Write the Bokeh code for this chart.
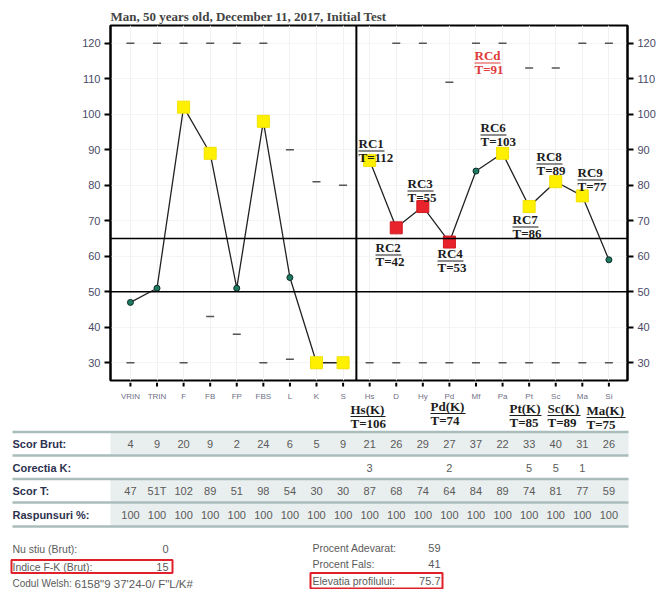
from bokeh.plotting import figure
from bokeh.models import Range1d, LinearAxis, FixedTicker, Span
from bokeh.layouts import column
from bokeh.core.properties import value
from bokeh.embed import file_html
from bokeh.resources import INLINE

# ---------------- data ----------------
scales = ["VRIN", "TRIN", "F", "FB", "FP", "FBS", "L", "K", "S",
          "Hs", "D", "Hy", "Pd", "Mf", "Pa", "Pt", "Sc", "Ma", "Si"]
t_scores = [47, 51, 102, 89, 51, 98, 54, 30, 30,
            87, 68, 74, 64, 84, 89, 74, 81, 77, 59]
t_labels = ["47", "51T", "102", "89", "51", "98", "54", "30", "30",
            "87", "68", "74", "64", "84", "89", "74", "81", "77", "59"]
raw_scores = ["4", "9", "20", "9", "2", "24", "6", "5", "9",
              "21", "26", "29", "27", "37", "22", "33", "40", "31", "26"]
k_correction = ["", "", "", "", "", "", "", "", "",
                "3", "", "", "2", "", "", "5", "5", "1", ""]
responses = ["100", "100", "100", "100", "100", "100", "100", "100", "100",
             "100", "100", "100", "100", "100", "100", "100", "100", "100", "100"]
marker_kind = ["c", "c", "y", "y", "c", "y", "c", "y", "y",
               "y", "r", "r", "r", "c", "y", "y", "y", "y", "c"]

# cutoff dashes (scale, T value)
dash_scale = ["VRIN", "TRIN", "F", "FB", "FP", "FBS", "VRIN", "F", "FBS",
              "FB", "FP", "L", "L", "K", "S",
              "D", "Hy", "Mf", "Pa", "Ma", "Si", "Pd", "Pt", "Sc",
              "Hs", "D", "Hy", "Pd", "Mf", "Pa", "Pt", "Sc", "Ma", "Si"]
dash_value = [120, 120, 120, 120, 120, 120, 30, 30, 30,
              43, 38, 90, 31, 81, 80,
              120, 120, 120, 120, 120, 120, 109, 113, 113,
              30, 30, 30, 30, 30, 30, 30, 30, 30, 30]

# RC scale annotations
rc_names = ["RC1", "RC2", "RC3", "RC4", "RC6", "RC7", "RC8", "RC9", "RCd"]
rc_T = [112, 42, 55, 53, 103, 86, 89, 77, 91]
# K-corrected scale annotations
k_names = ["Hs(K)", "Pd(K)", "Pt(K)", "Sc(K)", "Ma(K)"]
k_T = [106, 74, 85, 89, 75]

row_names = ["Scor Brut:", "Corectia K:", "Scor T:", "Raspunsuri %:"]

info_left_labels = ["Nu stiu (Brut):", "Indice F-K (Brut):", "Codul Welsh:"]
info_left_values = ["0", "15", ""]
welsh_code = "6158\"9 37'24-0/ F\"L/K#"
info_right_labels = ["Procent Adevarat:", "Procent Fals:", "Elevatia profilului:"]
info_right_values = ["59", "41", "75.7"]

title_text = "Man, 50 years old, December 11, 2017, Initial Test"

# ---------------- geometry / styles ----------------
W = 659
FL, FW, FT, FH = 110, 517, 25, 355
HA = FT + FH + 2
HB = 589 - HA
XR = (-0.75, 18.7)
YR = (25, 125)
sx = FW / (XR[1] - XR[0])
sy = FH / (YR[1] - YR[0])


def ax(px):  # page px -> chart x
    return XR[0] + (px - FL) / sx


def ay(py):  # page py -> chart y
    return YR[1] - (py - FT) / sy


SERIF = value("Liberation Serif")
SANS = value("Liberation Sans")

# ---------------- chart figure ----------------
p = figure(width=W, height=HA, output_backend="svg", toolbar_location=None,
           x_range=Range1d(*XR), y_range=Range1d(*YR), x_axis_location=None,
           min_border_left=FL, min_border_right=W - FL - FW,
           min_border_top=FT, min_border_bottom=HA - FT - FH)
p.frame_align = False
p.title.text = title_text
p.title.text_font = "Liberation Serif"
p.title.text_font_size = "13px"
p.title.text_font_style = "bold"
p.title.standoff = 3
p.title.offset = 0
p.outline_line_color = "black"
p.outline_line_width = 2
p.background_fill_color = "white"

idx = list(range(len(scales)))
yticks = list(range(30, 121, 10))
p.yaxis.ticker = FixedTicker(ticks=yticks)
right = LinearAxis(ticker=FixedTicker(ticks=yticks))
p.add_layout(right, "right")
for a in [p.yaxis[0], right]:
    a.axis_line_color = "black"
    a.axis_line_width = 2
    a.major_tick_line_color = "black"
    a.major_tick_line_width = 2
    a.major_tick_out = 6
    a.major_tick_in = 0
    a.minor_tick_line_color = None
    a.major_label_text_font_size = "11px"
    a.major_label_text_color = "#4a4a68"
    a.major_label_standoff = 4
p.xgrid.ticker = FixedTicker(ticks=idx)
p.xgrid.grid_line_color = "#f1f1f1"
p.ygrid.ticker = FixedTicker(ticks=yticks)
p.ygrid.grid_line_color = "#f4f4f4"

for loc in (65, 50):
    p.add_layout(Span(location=loc, dimension="width", line_color="black", line_width=1.6))
p.add_layout(Span(location=8.5, dimension="height", line_color="black", line_width=2))

# cutoff dashes
p.scatter([scales.index(s) for s in dash_scale], dash_value, marker="dash",
          size=8, line_color="#555555", line_width=1.5)

# profile lines (validity / clinical groups)
n_val = scales.index("S") + 1
p.line(idx[:n_val], t_scores[:n_val], line_color="#222222", line_width=1.3)
p.line(idx[n_val:], t_scores[n_val:], line_color="#222222", line_width=1.3)

# markers
for kind, mk, size, fill, lc in [("y", "square", 12, "#fff000", "#f2e200"),
                                  ("r", "square", 12, "#e8232b", "#d01c22"),
                                  ("c", "circle", 6, "#1f7a62", "#0d2e2a")]:
    xs = [i for i in idx if marker_kind[i] == kind]
    ys = [t_scores[i] for i in xs]
    p.scatter(xs, ys, marker=mk, size=size, fill_color=fill, line_color=lc, line_width=1)

# RC annotations (placement in page px)
rc_place = {"RC1": (358, 143), "RC2": (375, 247), "RC3": (407, 183), "RC4": (437, 253),
            "RC6": (480, 127), "RC7": (512, 219), "RC8": (536, 156), "RC9": (577, 172),
            "RCd": (474, 55)}
tx, ty, tt, tc = [], [], [], []
ux0, ux1, uy, uc = [], [], [], []
for n, T in zip(rc_names, rc_T):
    px, py = rc_place[n]
    col = "#e03a3a" if n == "RCd" else "#1c1c1c"
    tx += [ax(px), ax(px)]
    ty += [ay(py), ay(py + 14)]
    tt += [n, "T=%d" % T]
    tc += [col, col]
    ux0.append(ax(px))
    ux1.append(ax(px + 26))
    uy.append(ay(py + 7.5))
    uc.append(col)
p.segment(ux0, uy, ux1, uy, line_color=uc, line_width=1.2)
p.text(tx, ty, text=tt, text_color=tc, text_font=SERIF, text_font_size="13px",
       text_font_style="bold", text_align="left", text_baseline="middle")

# ---------------- table figure (shares the chart's category scale) ----------------
q = figure(width=W, height=HB, output_backend="svg", toolbar_location=None,
           x_range=Range1d(ax(0), ax(W)), y_range=Range1d(HA + HB, HA),
           min_border=0, x_axis_location=None, y_axis_location=None)
q.frame_align = False
q.grid.grid_line_color = None
q.outline_line_color = None

# category ticks and scale names under the chart
q.segment(idx, [HA] * len(idx), idx, [FT + FH + 6] * len(idx), line_color="black", line_width=2)
q.text(idx, [396] * len(idx), text=scales, text_font=SANS, text_font_size="8px",
       text_color="#707085", text_align="center", text_baseline="middle")

# K-corrected labels
k_place = {"Hs(K)": (350, 409), "Pd(K)": (430, 406), "Pt(K)": (509, 408),
           "Sc(K)": (547, 408), "Ma(K)": (586, 410)}
k_width = {"Hs(K)": 35, "Pd(K)": 35, "Pt(K)": 32, "Sc(K)": 33, "Ma(K)": 39}
kx, ky, kt = [], [], []
kux0, kux1, kuy = [], [], []
for n, T in zip(k_names, k_T):
    px, py = k_place[n]
    kx += [ax(px), ax(px)]
    ky += [py, py + 13.5]
    kt += [n, "T=%d" % T]
    kux0.append(ax(px))
    kux1.append(ax(px + k_width[n]))
    kuy.append(py + 7)
q.segment(kux0, kuy, kux1, kuy, line_color="#1c1c1c", line_width=1.2)
q.text(kx, ky, text=kt, text_color="#1c1c1c", text_font=SERIF, text_font_size="13px",
       text_font_style="bold", text_align="left", text_baseline="middle")

# table
row_y = [443, 467, 490, 514]
line_y = [431.5, 455, 478.5, 502, 526]
band_rows = [0, 2, 3]
q.quad(left=[ax(110)] * len(band_rows), right=[ax(628)] * len(band_rows),
       top=[line_y[r] for r in band_rows], bottom=[line_y[r + 1] for r in band_rows],
       fill_color="#e9eeee", line_color=None)
q.segment([ax(12)] * 5, line_y, [ax(628)] * 5, line_y, line_color="#aabdbd", line_width=2.5)
q.text([ax(12)] * 4, row_y, text=row_names, text_font=SANS, text_font_size="11px",
       text_font_style="bold", text_color="#2d3150", text_align="left", text_baseline="middle")
for vals, yy in zip([raw_scores, k_correction, t_labels, responses], row_y):
    q.text(idx, [yy] * len(idx), text=vals, text_font=SANS, text_font_size="11px",
           text_color="#5a5a5a", text_align="center", text_baseline="middle")

# bottom info
info_left_y = [548, 566, 583]
info_right_y = [547, 563, 580]
q.text([ax(12)] * 2, info_left_y[:2], text=info_left_labels[:2], text_font=SANS,
       text_font_size="10.5px", text_color="#5a5a5a", text_align="left", text_baseline="middle")
q.text([ax(12)], info_left_y[2:], text=info_left_labels[2:], text_font=SANS,
       text_font_size="10px", text_color="#5a5a5a", text_align="left", text_baseline="middle")
q.text([ax(168)] * 3, info_left_y, text=info_left_values, text_font=SANS, text_font_size="11px",
       text_color="#5a5a5a", text_align="right", text_baseline="middle")
q.text([ax(74)], [info_left_y[2]], text=[welsh_code], text_font=SANS, text_font_size="11.5px",
       text_color="#5a5a5a", text_align="left", text_baseline="middle")
q.segment([ax(103)], [info_left_y[2] + 6.5], [ax(116)], [info_left_y[2] + 6.5],
          line_color="#5a5a5a", line_width=1)
q.text([ax(312)] * 3, info_right_y, text=info_right_labels, text_font=SANS,
       text_font_size="10.5px", text_color="#5a5a5a", text_align="left", text_baseline="middle")
q.text([ax(440)] * 3, info_right_y, text=info_right_values, text_font=SANS, text_font_size="11px",
       text_color="#5a5a5a", text_align="right", text_baseline="middle")
# highlight boxes
q.quad(left=[ax(11), ax(310)], right=[ax(172), ax(442)],
       top=[info_left_y[1] - 6.5, info_right_y[2] - 7.5],
       bottom=[info_left_y[1] + 6.5, info_right_y[2] + 8],
       fill_color=None, line_color="#e0202a", line_width=2)

layout = column(p, q, spacing=0)
open("out.html", "w").write(file_html(layout, INLINE))
